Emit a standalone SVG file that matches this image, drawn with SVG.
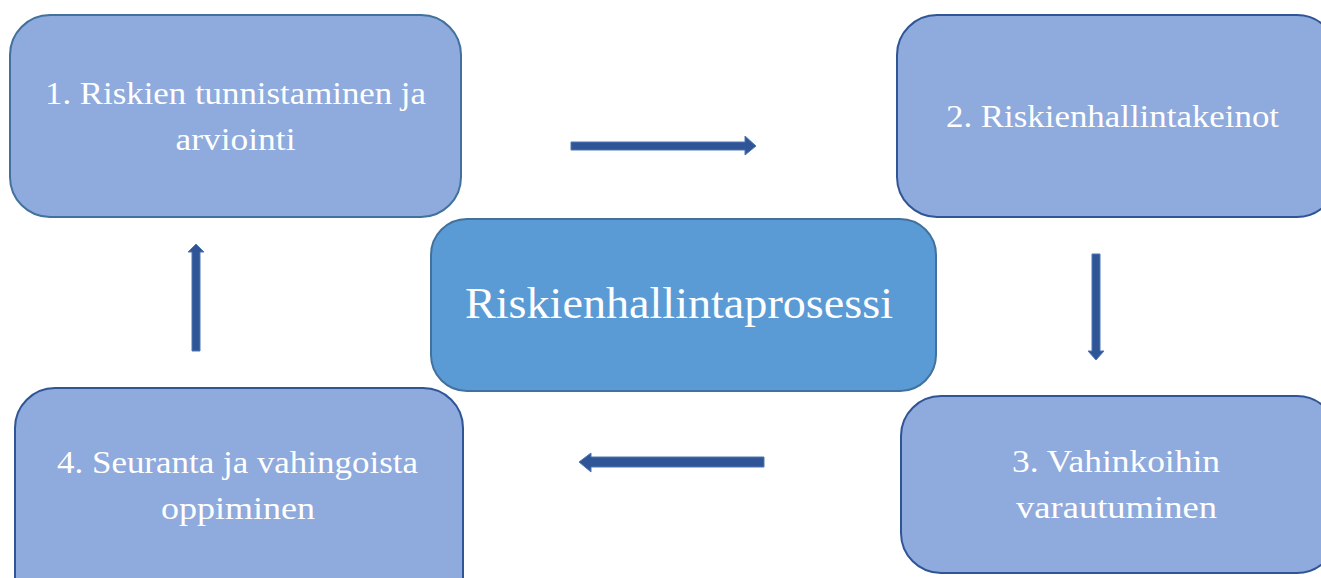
<svg xmlns="http://www.w3.org/2000/svg" width="1321" height="578" viewBox="0 0 1321 578">
<style>
.box{fill:#8FAADC;stroke:#2F5597;stroke-width:2}
.box1{stroke:#41719C}
.center{fill:#5B9BD5;stroke:#41719C;stroke-width:2}
.lbl{font-family:"Liberation Serif","DejaVu Serif",serif;font-size:31px;fill:#FFFFFF;text-anchor:middle}
.big{font-size:44px}
.arr{fill:#2F5597;stroke:#4F77B3;stroke-width:1}
</style>
<rect width="1321" height="578" fill="#FFFFFF"/>
<g id="node1">
<rect class="box box1" x="10" y="15" width="451" height="202" rx="40" ry="40"/>
<text class="lbl" x="235.5" y="104" textLength="381" lengthAdjust="spacingAndGlyphs">1. Riskien tunnistaminen ja</text>
<text class="lbl" x="235.5" y="150" textLength="120" lengthAdjust="spacingAndGlyphs">arviointi</text>
</g>
<g id="node2">
<rect class="box" x="897" y="15" width="440" height="202" rx="40" ry="40"/>
<text class="lbl" x="1112.5" y="127" textLength="333" lengthAdjust="spacingAndGlyphs">2. Riskienhallintakeinot</text>
</g>
<g id="node3">
<rect class="box" x="901" y="396" width="436" height="177" rx="40" ry="40"/>
<text class="lbl" x="1116" y="472" textLength="208" lengthAdjust="spacingAndGlyphs">3. Vahinkoihin</text>
<text class="lbl" x="1116.5" y="518" textLength="201" lengthAdjust="spacingAndGlyphs">varautuminen</text>
</g>
<g id="node4">
<rect class="box" x="15" y="388" width="448" height="230" rx="40" ry="40"/>
<text class="lbl" x="237.5" y="473" textLength="361" lengthAdjust="spacingAndGlyphs">4. Seuranta ja vahingoista</text>
<text class="lbl" x="238" y="519" textLength="154" lengthAdjust="spacingAndGlyphs">oppiminen</text>
</g>
<g id="center">
<rect class="center" x="431" y="219" width="505" height="172" rx="36" ry="36"/>
<text class="lbl big" x="679" y="318" textLength="428" lengthAdjust="spacingAndGlyphs">Riskienhallintaprosessi</text>
</g>
<g id="connectors">
<polygon class="arr" points="571,142 745,142 745,136 756,146 745,155 745,150 571,150"/>
<polygon class="arr" points="1092,254 1100,254 1100,351 1104,351 1096,360 1088,351 1092,351"/>
<polygon class="arr" points="764,457 591,457 591,453 579,462 591,472 591,467 764,467"/>
<polygon class="arr" points="192,351 192,252 188,252 196,244 204,252 200,252 200,351"/>
</g>
</svg>
